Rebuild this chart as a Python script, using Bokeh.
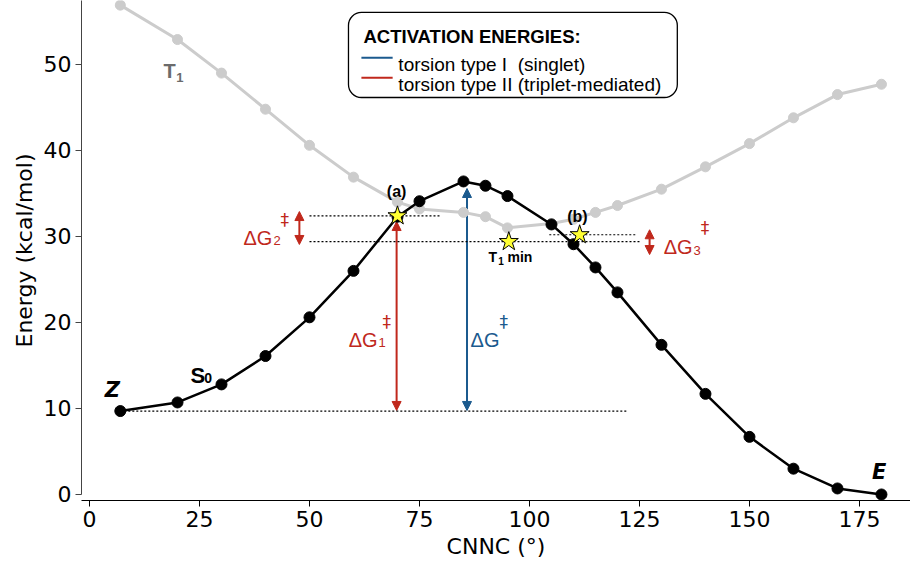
from bokeh.plotting import figure
from bokeh.models import Range1d, Arrow, NormalHead, FixedTicker, BoxAnnotation
from bokeh.core.properties import value
from bokeh.embed import file_html
from bokeh.resources import INLINE

# ---------------- data ----------------
angles = [7, 20, 30, 40, 50, 60, 70, 75, 85, 90, 95, 105, 110, 115, 120, 130, 140, 150, 160, 170, 180]
s0_energy = [9.7, 10.7, 12.8, 16.1, 20.6, 26.0, 32.3, 34.1, 36.4, 35.9, 34.7, 31.4, 29.1, 26.4, 23.5,
             17.4, 11.7, 6.7, 3.0, 0.7, 0.0]
t1_energy = [56.9, 52.9, 49.0, 44.8, 40.6, 36.9, 34.0, 33.2, 32.8, 32.3, 31.0, 31.5, 32.0, 32.8, 33.6,
             35.5, 38.1, 40.8, 43.8, 46.5, 47.7]

star_x = [70, 95.3, 111.4]          # (a), T1 min, (b)
star_y = [32.4, 29.4, 30.2]

z_energy = 9.7
x_ticks = [0, 25, 50, 75, 100, 125, 150, 175]
y_ticks = [0, 10, 20, 30, 40, 50]

BLUE = "#1b5a8e"
RED = "#c0281c"
GRAY = "#cccccc"
SANS = "Liberation Sans"

p = figure(width=910, height=567, x_range=Range1d(-1.82, 186.6), y_range=Range1d(-0.7, 57.44),
           output_backend="svg", toolbar_location=None,
           min_border_left=81, min_border_right=0, min_border_top=0, min_border_bottom=67)
p.grid.visible = False
p.outline_line_color = None
p.background_fill_color = "white"

p.xaxis.ticker = FixedTicker(ticks=x_ticks)
p.yaxis.ticker = FixedTicker(ticks=y_ticks)
p.axis.minor_tick_line_color = None
p.axis.major_tick_in = 0
p.axis.major_tick_out = 6
p.axis.major_label_standoff = 4
p.axis.major_label_text_font = "DejaVu Sans"
p.axis.major_label_text_font_size = "22px"
p.axis.major_label_text_color = "black"
p.axis.axis_label_text_font = "DejaVu Sans"
p.axis.axis_label_text_font_style = "normal"
p.axis.axis_label_text_font_size = "22px"
p.axis.axis_label_text_color = "black"
p.axis.axis_label_standoff = 4
p.xaxis.axis_label = "CNNC (°)"
p.yaxis.axis_label = "Energy (kcal/mol)"
p.yaxis.bounds = (0, 57.44)
p.yaxis.axis_line_color = "#444444"
p.yaxis.major_tick_line_color = "#444444"

# legend box (under glyphs)
box = BoxAnnotation(left=58.86, right=133.6, bottom=46.16, top=56.05, border_radius=13,
                    fill_color="white", fill_alpha=1, line_color="black", line_alpha=1,
                    line_width=1.3, level="underlay")
p.add_layout(box)

# T1 curve
p.line(angles, t1_energy, line_color=GRAY, line_width=3)
p.scatter(angles, t1_energy, size=10, fill_color=GRAY, line_color=GRAY)

# dotted reference lines
p.segment(x0=[7, 50, 50, 104.5], y0=[z_energy, star_y[0], star_y[1], star_y[2]],
          x1=[122.3, 80, 125, 124.5], y1=[z_energy, star_y[0], star_y[1], star_y[2]],
          line_color="black", line_width=1.2, line_dash="2 2")

# arrows
def arrow(x, y0, y1, color):
    a = Arrow(start=NormalHead(size=9, fill_color=color, line_color=color),
              end=NormalHead(size=9, fill_color=color, line_color=color),
              x_start=x, y_start=y0, x_end=x, y_end=y1,
              line_color=color, line_width=2, level="underlay")
    p.add_layout(a)

arrow(69.8, 9.77, 31.74, RED)    # dG1
arrow(85.8, 9.77, 35.58, BLUE)   # dG
arrow(47.7, 29.07, 32.9, RED)    # dG2
arrow(127.3, 27.9, 30.78, RED)   # dG3

# S0 curve
p.line(angles, s0_energy, line_color="black", line_width=2.5)
p.scatter(angles, s0_energy, size=11, fill_color="black", line_color="black")

# stars
p.scatter(star_x, star_y, marker="star", size=20, fill_color="#ffff33", line_color="black", line_width=1)


def label(x, y, txt, size, color="black", style="normal", align="left", baseline="alphabetic", font=SANS):
    p.text(x=[x], y=[y], text=[txt], text_font=value(font), text_font_size=size,
           text_font_style=style, text_color=color, text_align=align, text_baseline=baseline)

# point labels
label(69.8, 35.2, "(a)", "16px", style="bold", align="center", baseline="middle")
label(110.9, 32.3, "(b)", "16px", style="bold", align="center", baseline="middle")
label(90.7, 27.56, "T", "14px", style="bold")
label(92.9, 27.2, "1", "10px", style="bold")
label(95.0, 27.56, "min", "14px", style="bold")

label(16.8, 49.2, "T", "20px", color="#6b6b6b", style="bold")
label(19.7, 48.5, "1", "13px", color="#6b6b6b", style="bold")
label(22.95, 13.84, "S", "22px", style="bold")
label(26.1, 13.6, "0", "14px", style="bold")
label(5.2, 12.1, "Z", "21px", style="bold italic", align="center", baseline="middle", font="DejaVu Sans")
label(179.5, 2.67, "E", "21px", style="bold italic", align="center", baseline="middle", font="DejaVu Sans")

# activation energy labels
DAG = "DejaVu Sans"
label(35.0, 29.77, "ΔG", "20px", color=RED)
label(41.8, 29.53, "2", "13px", color=RED)
label(43.4, 31.86, "‡", "17px", color=RED, baseline="middle", font=DAG)

label(58.9, 18.02, "ΔG", "20px", color=RED)
label(65.7, 17.67, "1", "13px", color=RED)
label(66.6, 20.0, "‡", "17px", color=RED, baseline="middle", font=DAG)

label(86.6, 18.02, "ΔG", "20px", color=BLUE)
label(93.2, 20.0, "‡", "17px", color=BLUE, baseline="middle", font=DAG)

label(130.5, 28.72, "ΔG", "20px", color=RED)
label(137.3, 28.37, "3", "13px", color=RED)
label(138.9, 30.93, "‡", "17px", color=RED, baseline="middle", font=DAG)

# legend contents
label(62.27, 53.26, "ACTIVATION ENERGIES:", "18.5px", style="bold")
p.segment(x0=[61.8, 61.8], y0=[50.78, 48.45], x1=[68.9, 68.9], y1=[50.78, 48.45],
          line_color=[BLUE, RED], line_width=2)
label(70.2, 50.0, "torsion type I\u00a0 (singlet)", "19px")
label(70.2, 47.67, "torsion type II (triplet-mediated)", "19px")

open("out.html", "w").write(file_html(p, INLINE))
